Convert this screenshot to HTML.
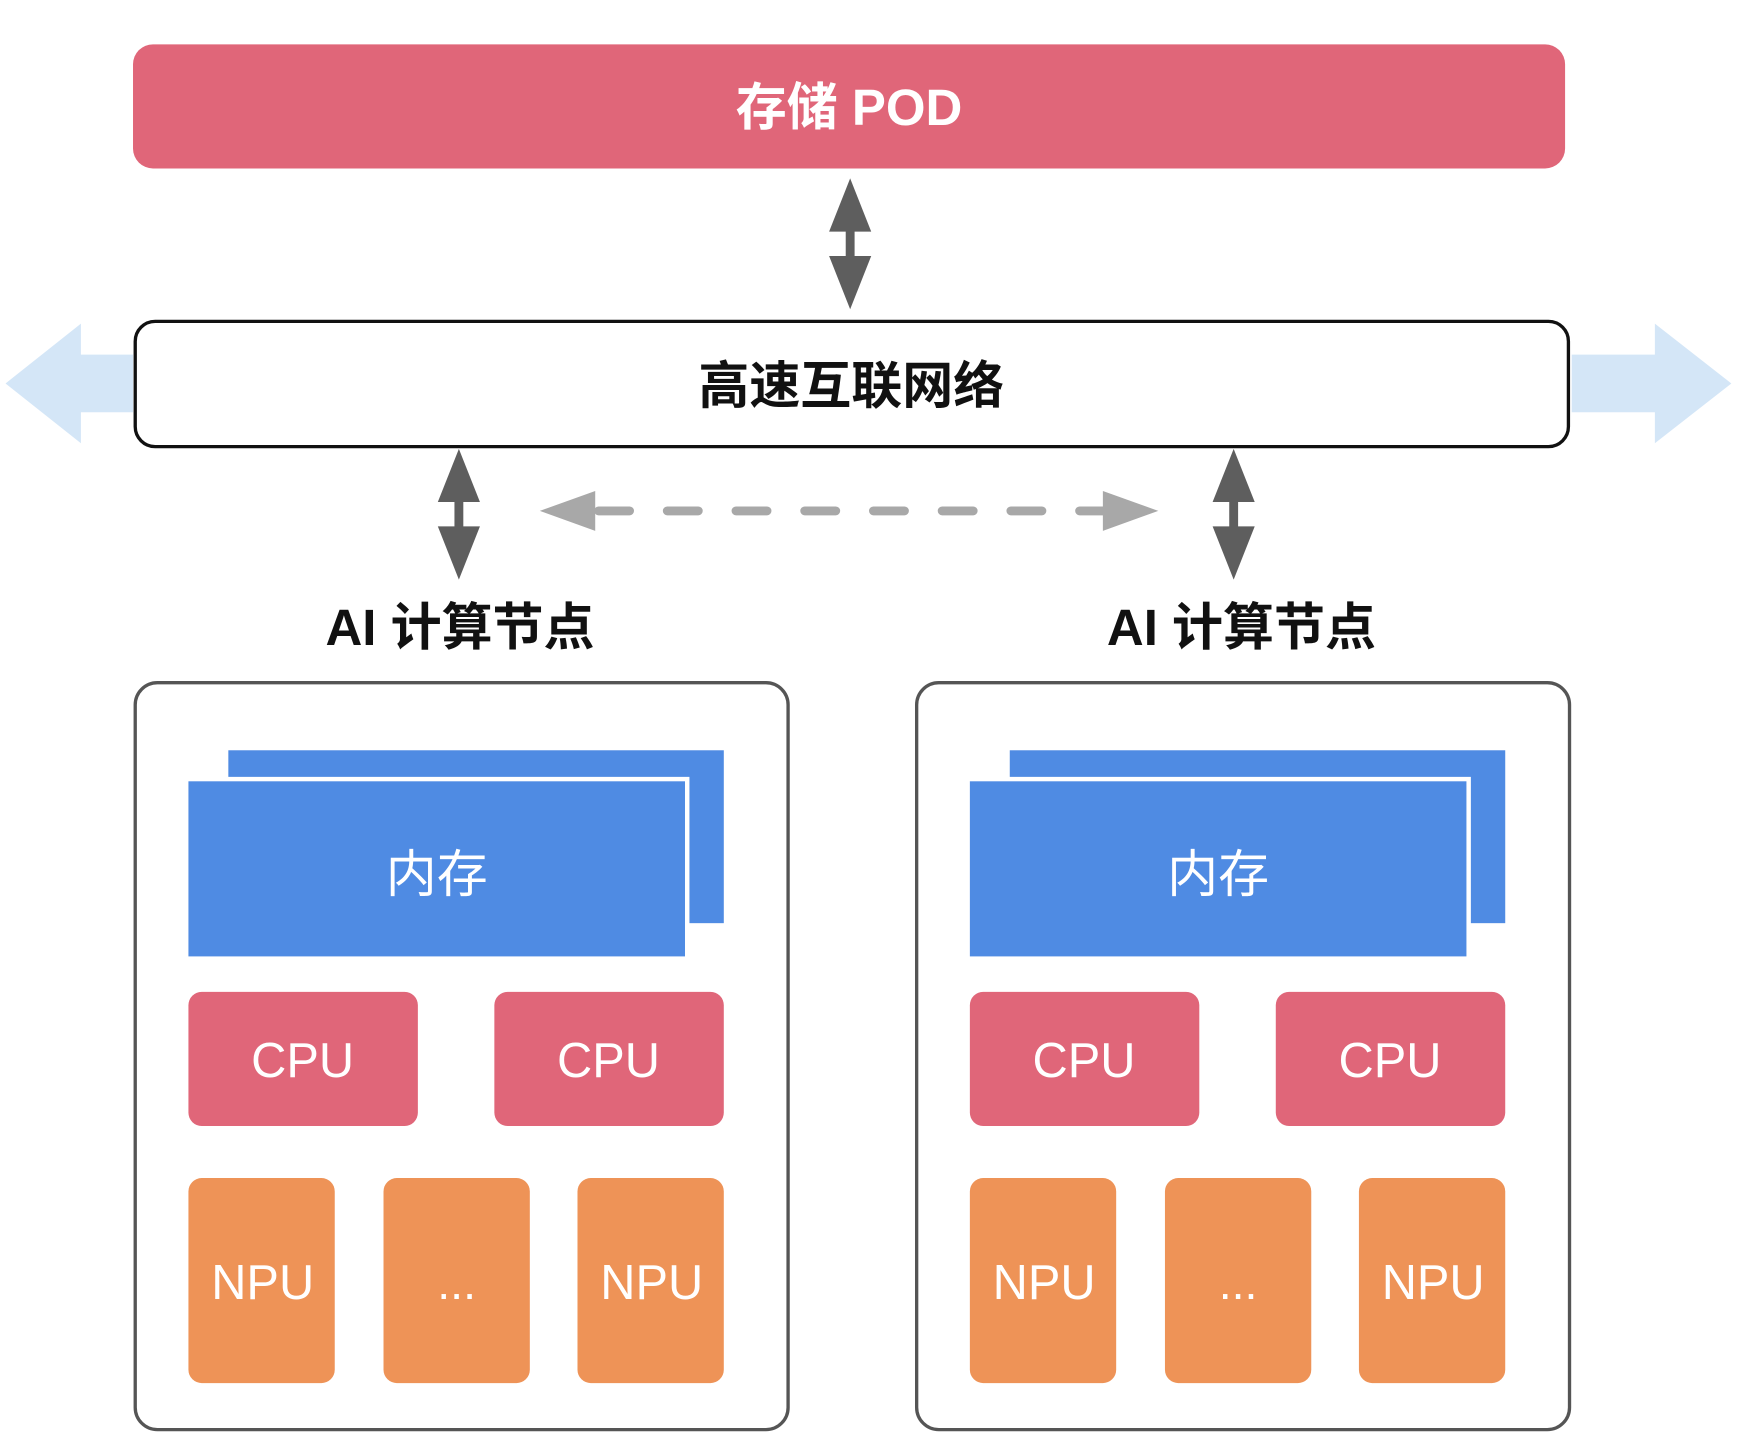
<!DOCTYPE html>
<html><head><meta charset="utf-8"><style>
html,body{margin:0;padding:0;background:#fff;}
svg{display:block;}
text{font-family:"Liberation Sans","Noto Sans CJK SC",sans-serif;}
</style></head><body>
<svg width="1738" height="1454" viewBox="0 0 1568 1312" preserveAspectRatio="none" xmlns="http://www.w3.org/2000/svg">
<defs>
<g id="dbl">
  <rect x="-4" y="40" width="8" height="38" fill="#5e5e5e"/>
  <polygon points="0,0 -19,48 19,48" fill="#5e5e5e"/>
  <polygon points="0,118 -19,70 19,70" fill="#5e5e5e"/>
</g>
<g id="node">
  <rect x="122" y="616" width="589" height="674" rx="20" fill="#fff" stroke="#555" stroke-width="3"/>
  <rect x="206" y="677" width="447" height="156" fill="#4f8be3"/>
  <rect x="168" y="703" width="452" height="162" fill="#4f8be3" stroke="#fff" stroke-width="4"/>
  <text x="394" y="805" font-size="46" fill="#fff" text-anchor="middle">内存</text>
  <rect x="170" y="895" width="207" height="121" rx="12" fill="#e06679"/>
  <rect x="446" y="895" width="207" height="121" rx="12" fill="#e06679"/>
  <text x="273" y="972" font-size="44" fill="#fff" text-anchor="middle">CPU</text>
  <text x="549" y="972" font-size="44" fill="#fff" text-anchor="middle">CPU</text>
  <rect x="170" y="1063" width="132" height="185" rx="12" fill="#ee9357"/>
  <rect x="346" y="1063" width="132" height="185" rx="12" fill="#ee9357"/>
  <rect x="521" y="1063" width="132" height="185" rx="12" fill="#ee9357"/>
  <text x="237" y="1172" font-size="44" fill="#fff" text-anchor="middle">NPU</text>
  <text x="412" y="1172" font-size="42" fill="#fff" text-anchor="middle">...</text>
  <text x="588" y="1172" font-size="44" fill="#fff" text-anchor="middle">NPU</text>
</g>
</defs>
<rect x="120" y="40" width="1292" height="112" rx="18" fill="#e06679"/>
<text x="766" y="113" font-size="46" font-weight="bold" fill="#fff" text-anchor="middle">存储 POD</text>
<use href="#dbl" x="767" y="161"/>
<polygon points="5,346 73,292 73,320 120,320 120,372 73,372 73,400" fill="#d4e6f7"/>
<polygon points="1562,346 1493,292 1493,320 1418,320 1418,372 1493,372 1493,400" fill="#d4e6f7"/>
<rect x="122" y="290" width="1293" height="113" rx="18" fill="#fff" stroke="#111" stroke-width="3"/>
<text x="768" y="364" font-size="46" font-weight="bold" fill="#111" text-anchor="middle">高速互联网络</text>
<use href="#dbl" x="414" y="405"/>
<use href="#dbl" x="1113" y="405"/>
<line x1="540" y1="461" x2="995" y2="461" stroke="#a8a8a8" stroke-width="8" stroke-dasharray="28,34" stroke-linecap="round"/>
<polygon points="487,461 537,443 537,479" fill="#a8a8a8"/>
<polygon points="1045,461 995,443 995,479" fill="#a8a8a8"/>
<text x="415" y="582" font-size="46" font-weight="bold" fill="#111" text-anchor="middle">AI 计算节点</text>
<text x="1120" y="582" font-size="46" font-weight="bold" fill="#111" text-anchor="middle">AI 计算节点</text>
<use href="#node"/>
<use href="#node" x="705"/>
</svg>
</body></html>
